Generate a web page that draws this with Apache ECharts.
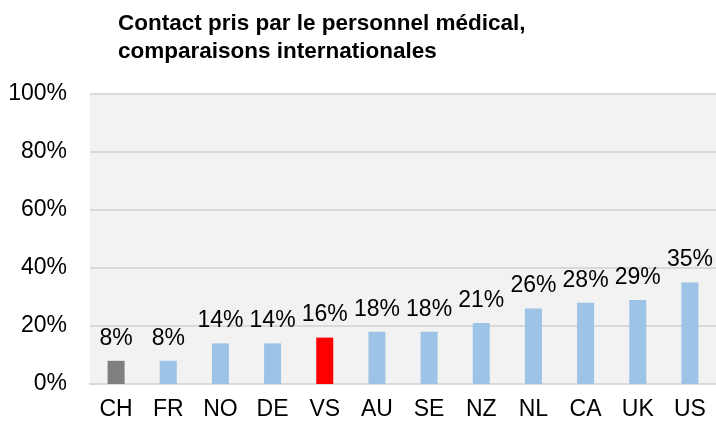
<!DOCTYPE html>
<html>
<head>
<meta charset="utf-8">
<script src="https://cdn.jsdelivr.net/npm/echarts@6/dist/echarts.min.js"></script>
<style>
  html, body { margin: 0; padding: 0; background: #fff; }
  #main { width: 716px; height: 421px; }
</style>
</head>
<body>
<div id="main"></div>
<script>
// données
var pays = ['CH', 'FR', 'NO', 'DE', 'VS', 'AU', 'SE', 'NZ', 'NL', 'CA', 'UK', 'US'];
var valeurs = [8, 8, 14, 14, 16, 18, 18, 21, 26, 28, 29, 35];
var yTicks = [0, 20, 40, 60, 80, 100];

function couleur(nom) {
  if (nom === 'CH') return '#7f7f7f';
  if (nom === 'VS') return '#ff0000';
  return '#9dc3e6';
}

var donnees = valeurs.map(function (v, i) {
  return { value: v, itemStyle: { color: couleur(pays[i]) } };
});

var police = '"Liberation Sans", Arial, sans-serif';

var option = {
  animation: false,
  title: {
    text: 'Contact pris par le personnel médical,\ncomparaisons internationales',
    left: 113,
    top: 5,
    textStyle: {
      fontFamily: police,
      fontSize: 22.5,
      fontWeight: 'bold',
      color: '#000',
      lineHeight: 28
    }
  },
  grid: {
    left: 90,
    right: 0,
    top: 94,
    bottom: 37,
    show: true,
    backgroundColor: '#f2f2f2',
    borderWidth: 0
  },
  xAxis: {
    type: 'category',
    data: pays,
    axisTick: { show: false },
    axisLine: { lineStyle: { color: '#d9d9d9', width: 2 } },
    axisLabel: { fontFamily: police, fontSize: 23, color: '#000', margin: 14 }
  },
  yAxis: {
    type: 'value',
    min: yTicks[0],
    max: yTicks[yTicks.length - 1],
    interval: 20,
    axisLine: { show: false },
    axisTick: { show: false },
    splitLine: { lineStyle: { color: '#d9d9d9', width: 2 } },
    axisLabel: {
      fontFamily: police, fontSize: 23, color: '#000', margin: 23,
      formatter: '{value}%'
    }
  },
  series: [
    {
      type: 'bar',
      data: donnees,
      barWidth: 17,
      label: {
        show: true,
        position: 'top',
        distance: 11,
        fontFamily: police,
        fontSize: 23,
        color: '#000',
        formatter: '{c}%'
      }
    }
  ]
};

var myChart = echarts.init(document.getElementById('main'));
myChart.setOption(option, true);
</script>
</body>
</html>
